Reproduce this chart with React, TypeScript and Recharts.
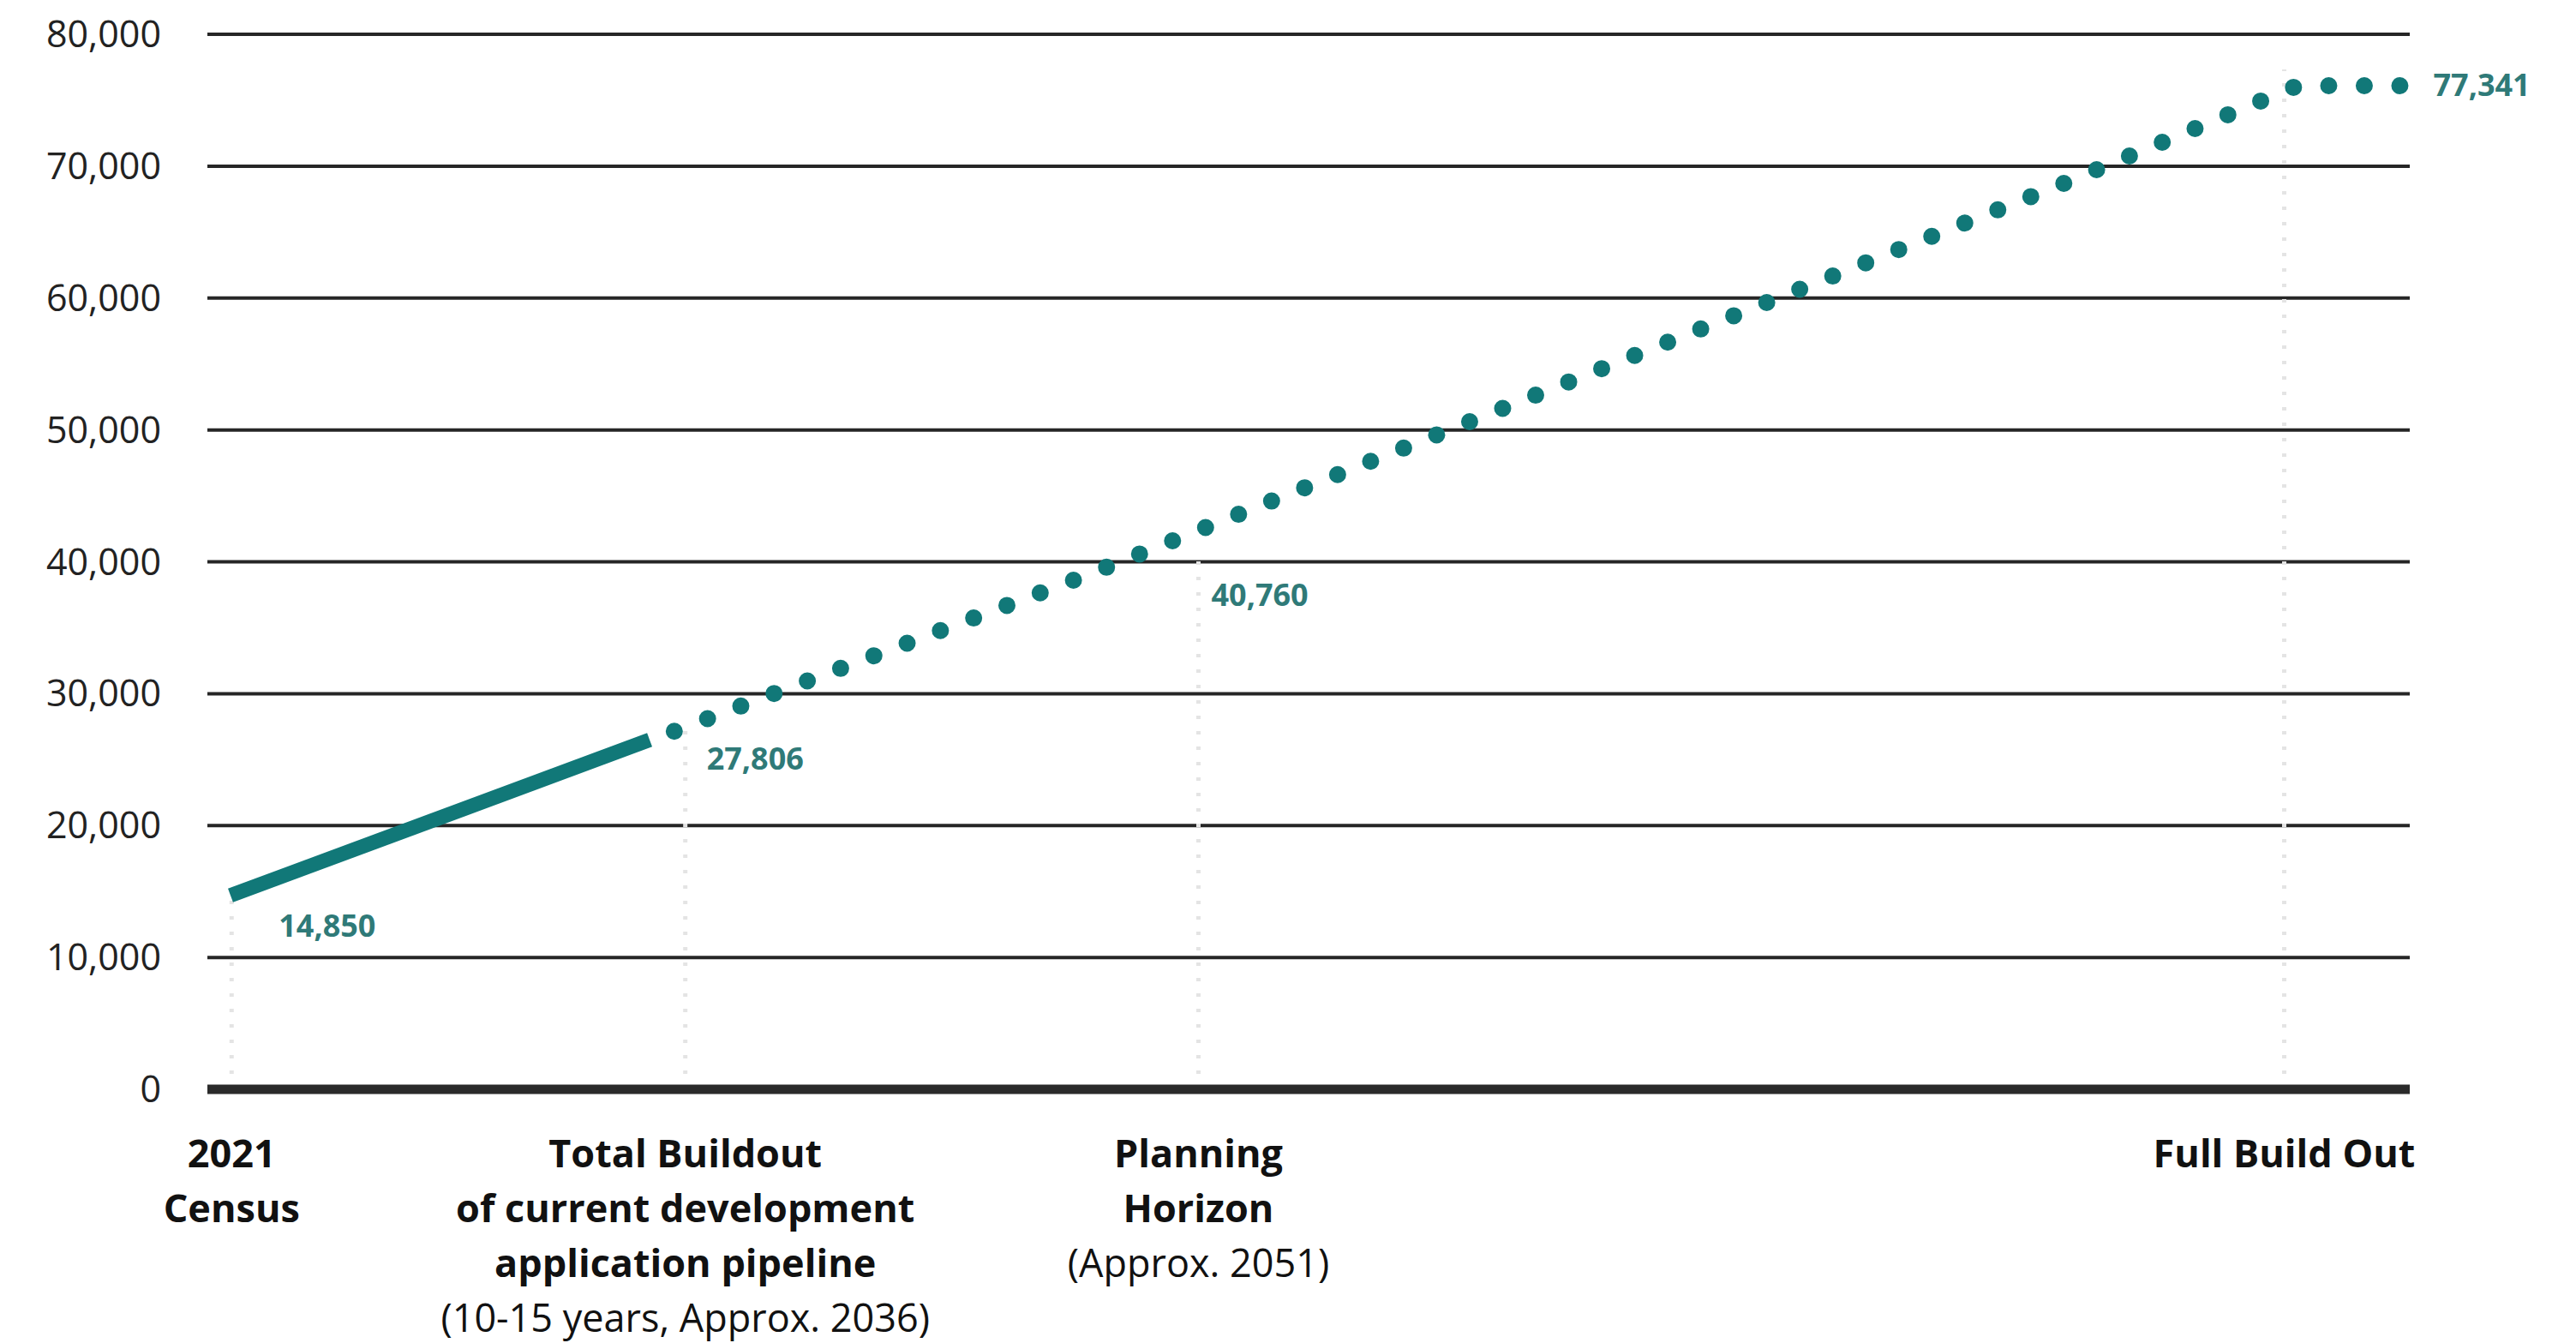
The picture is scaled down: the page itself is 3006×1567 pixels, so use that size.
import React from "react";
import {
  ComposedChart,
  Line,
  XAxis,
  YAxis,
  CartesianGrid,
  ReferenceLine,
  LabelList,
} from "recharts";

// ---- data ----
const categoryTitles: string[][] = [
  ["2021", "Census"],
  ["Total Buildout", "of current development", "application pipeline"],
  ["Planning", "Horizon"],
  ["Full Build Out"],
];
const categoryNotes: string[] = ["", "(10-15 years, Approx. 2036)", "(Approx. 2051)", ""];
const categoryX: number[] = [1.1, 21.7, 45.0, 94.3];
const milestoneValues: number[] = [14850, 27806, 40760, 77341];

const currentX: number[] = [1.05, 20.08];
const currentValues: number[] = [14700, 26500];

const projectedX: number[] = [21.2, 39.8, 84.3, 94.9, 99.9];
const projectedValues: number[] = [27150, 38900, 68700, 76100, 76100];

const yTicks: number[] = [0, 10000, 20000, 30000, 40000, 50000, 60000, 70000, 80000];

// ---- derived tables ----
const currentData = currentX.map((x, i) => ({ x, v: currentValues[i] }));
const projectedData = projectedX.map((x, i) => ({ x, v: projectedValues[i] }));
const milestoneData = categoryX.map((x, i) => ({ x, v: milestoneValues[i] }));

// ---- styles ----
const FONT = "'Open Sans', 'Noto Sans', sans-serif";
const TEAL = "#117878";
const LABEL_TEAL = "#2f7a78";
const GRID = "#262626";
const labelOffsets: [number, number][] = [
  [55, 51],
  [25, 55],
  [15, 63],
  [174, 31],
];

const fmt = (v: number) => v.toLocaleString("en-US");

function CategoryTick(props: any) {
  const { x, y, payload } = props;
  const i = categoryX.indexOf(payload.value);
  if (i < 0) return null;
  const lines = categoryTitles[i];
  const note = categoryNotes[i];
  const base = y + 91;
  const lh = 64;
  return (
    <text x={x} y={base} textAnchor="middle" fontFamily={FONT} fontSize={45} fill="#111">
      {lines.map((l, k) => (
        <tspan key={k} x={x} y={base + k * lh} fontWeight={700}>
          {l}
        </tspan>
      ))}
      {note ? (
        <tspan x={x} y={base + lines.length * lh} fontWeight={400}>
          {note}
        </tspan>
      ) : null}
    </text>
  );
}

function YTick(props: any) {
  const { x, y, payload } = props;
  return (
    <text x={x} y={y} dy="0.35em" textAnchor="end" fontFamily={FONT} fontSize={43} fill="#222">
      {fmt(payload.value)}
    </text>
  );
}

function MilestoneLabel(props: any) {
  const px = props.viewBox && props.viewBox.x != null ? props.viewBox.x : props.x;
  const py = props.viewBox && props.viewBox.y != null ? props.viewBox.y : props.y;
  const idx = props.index ?? 0;
  const [dx, dy] = labelOffsets[idx] || [0, 0];
  return (
    <text
      x={px + dx}
      y={py + dy}
      textAnchor="start"
      fontFamily={FONT}
      fontSize={36}
      fontWeight={700}
      fill={LABEL_TEAL}
    >
      {fmt(Number(props.value))}
    </text>
  );
}

export default function App() {
  return (
    <div style={{ position: "absolute", left: 0, top: 0, background: "#fff" }}>
      <ComposedChart
        width={3006}
        height={1567}
        margin={{ top: 40, right: 194, bottom: 0, left: 0 }}
      >
        <CartesianGrid vertical={false} stroke={GRID} strokeWidth={4} />
        <XAxis
          type="number"
          dataKey="x"
          domain={[0, 100]}
          ticks={categoryX}
          interval={0}
          height={296}
          tickSize={0}
          tickMargin={0}
          tickLine={false}
          axisLine={{ stroke: "#2a2a2a", strokeWidth: 11 }}
          tick={<CategoryTick />}
          allowDataOverflow
        />
        <YAxis
          type="number"
          domain={[0, 80000]}
          ticks={yTicks}
          interval={0}
          width={242}
          tickSize={0}
          tickMargin={54}
          tickLine={false}
          axisLine={false}
          tick={<YTick />}
        />
        {categoryX.map((cx, i) => (
          <ReferenceLine
            key={"g" + i}
            segment={[
              { x: cx, y: 0 },
              { x: cx, y: milestoneValues[i] },
            ]}
            stroke="#e4e4e4"
            strokeWidth={5}
            strokeDasharray="4 14"
          />
        ))}
        <Line
          data={currentData}
          dataKey="v"
          type="linear"
          stroke={TEAL}
          strokeWidth={17}
          strokeLinecap="butt"
          dot={false}
          activeDot={false}
          isAnimationActive={false}
        />
        <Line
          data={projectedData}
          dataKey="v"
          type="linear"
          stroke={TEAL}
          strokeWidth={20}
          strokeLinecap="round"
          strokeDasharray="0 41.5"
          dot={false}
          activeDot={false}
          isAnimationActive={false}
        />
        <Line
          data={milestoneData}
          dataKey="v"
          type="linear"
          stroke="none"
          dot={false}
          activeDot={false}
          isAnimationActive={false}
        >
          <LabelList dataKey="v" content={<MilestoneLabel />} />
        </Line>
      </ComposedChart>
    </div>
  );
}
